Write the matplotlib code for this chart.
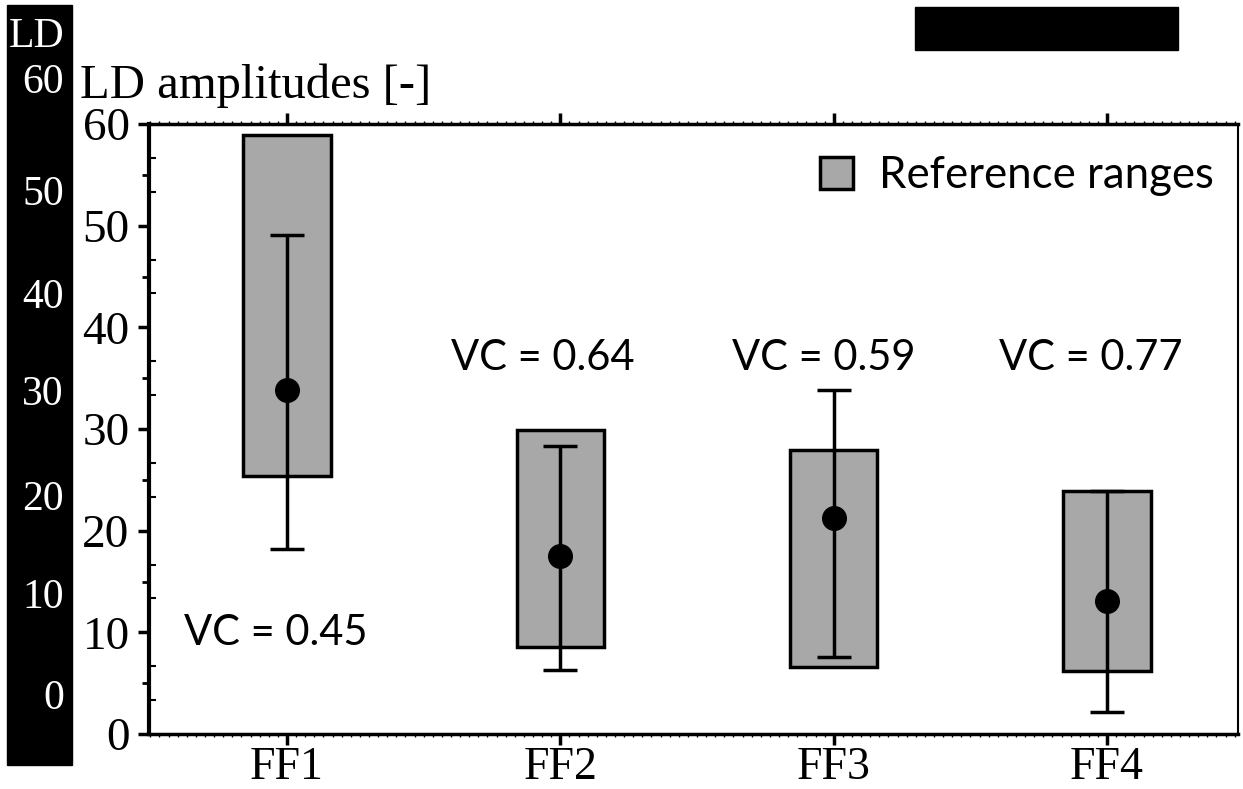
import numpy as np
import matplotlib
matplotlib.use("Agg")
from matplotlib import pyplot as plt
from matplotlib.patches import Rectangle
from matplotlib.ticker import MultipleLocator

# data
categories = ["FF1", "FF2", "FF3", "FF4"]
ref_low = [25.4, 8.6, 6.6, 6.2]
ref_high = [58.9, 29.9, 27.9, 23.9]
mean_val = [33.8, 17.5, 21.2, 13.1]
whisk_low = [18.2, 6.3, 7.6, 2.2]
whisk_high = [49.1, 28.3, 33.8, 23.9]
vc_vals = [0.45, 0.64, 0.59, 0.77]
strip_labels = ["LD", "60", "50", "40", "30", "20", "10", "0"]

W, H = 1243, 789
serif = "Liberation Serif"
sans = "Lato"

fig = plt.figure(figsize=(W / 100, H / 100), dpi=100)
ax = fig.add_axes([149 / W, 1 - 734 / H, (1238 - 149) / W, 610 / H])

x = np.arange(len(categories))
low = np.array(ref_low)
high = np.array(ref_high)
m = np.array(mean_val)

ax.bar(x, high - low, bottom=low, width=0.32, color="#a8a8a8",
       edgecolor="black", linewidth=2.5, label="Reference ranges", zorder=2)
ax.errorbar(x, m, yerr=[m - np.array(whisk_low), np.array(whisk_high) - m],
            fmt="o", color="black", ms=17, elinewidth=2.5, capsize=12,
            capthick=2.5, zorder=3)

# VC labels
vc_x = [-0.04, 0.934, 1.963, 2.94]
vc_y = [9.9, 37.0, 37.0, 37.0]
for xi, yi, v in zip(vc_x, vc_y, vc_vals):
    ax.text(xi, yi, "VC = %.2f" % v, ha="center", va="center",
            fontsize=30, family=sans, zorder=4)

ax.set_xlim(-0.505, 3.479)
ax.set_ylim(0, 60)
ax.set_xticks(x)
ax.set_xticklabels(categories, fontsize=33, family=serif)
ax.set_yticks(np.arange(0, 61, 10))
ax.set_yticklabels([str(v) for v in range(0, 61, 10)], fontsize=34, family=serif)
ax.yaxis.set_minor_locator(MultipleLocator(10 / 3))
ax.xaxis.set_minor_locator(MultipleLocator(1 / 30))
ax.tick_params(axis="y", which="major", direction="out", length=8, width=2.5, pad=6)
ax.tick_params(axis="y", which="minor", direction="in", length=5, width=1.5)
ax.tick_params(axis="x", which="major", direction="out", length=8, width=2.5,
               pad=1, top=True)
ax.tick_params(axis="x", which="minor", direction="out", length=2.5, width=1,
               top=True)

# extra outward ticks at the half-way marks
sec = ax.secondary_yaxis("left")
sec.set_yticks(np.arange(5, 60, 10))
sec.set_yticklabels([])
sec.tick_params(direction="out", length=5, width=2)
sec.spines["left"].set_visible(False)

ax.spines["left"].set_linewidth(3)
ax.spines["top"].set_linewidth(2.5)
ax.spines["bottom"].set_linewidth(2.5)
ax.spines["right"].set_linewidth(1.5)
ax.spines["right"].set_linestyle((0, (1, 1)))

leg = ax.legend(loc="upper right", bbox_to_anchor=(0.998, 0.985), frameon=False,
                prop={"family": sans, "size": 31.5}, handlelength=0.75,
                handleheight=0.75, handletextpad=0.6, borderpad=0)

fig.text(80 / W, 1 - 98 / H, "LD amplitudes [-]", fontsize=35, family=serif,
         va="baseline", ha="left")

# black strip on the left and block at top right
fig.patches.append(Rectangle((7 / W, 1 - 765 / H), 65 / W, 760 / H,
                             transform=fig.transFigure, color="black", zorder=0))
fig.patches.append(Rectangle((915 / W, 1 - 50 / H), 263 / W, 43 / H,
                             transform=fig.transFigure, color="black", zorder=0))
strip_y = [37, 83, 195, 298, 395, 500, 598, 699]
for lab, yy in zip(strip_labels, strip_y):
    fig.text(64 / W, 1 - yy / H, lab, color="white", fontsize=30, family=serif,
             ha="right", va="center")

fig.savefig("out.png", dpi=100)
